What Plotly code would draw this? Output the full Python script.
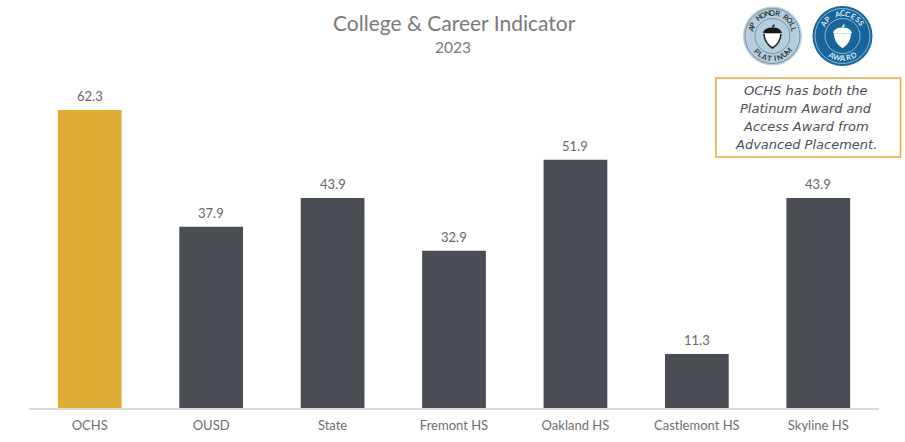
import math
import plotly.graph_objects as go

categories = ["OCHS", "OUSD", "State", "Fremont HS", "Oakland HS", "Castlemont HS", "Skyline HS"]
values = [62.3, 37.9, 43.9, 32.9, 51.9, 11.3, 43.9]
bar_colors = ["#DFAC36", "#4A4E54", "#4A4E54", "#4A4E54", "#4A4E54", "#4A4E54", "#4A4E54"]
title_text = "College & Career Indicator"
subtitle_text = "2023"
note_lines = ["OCHS has both the", "Platinum Award and", "Access Award from", "Advanced Placement."]

W, H = 905, 442
L, R, T, B = 29.4, 26, 0, 34
FONT = "Lato"
PW, PH = W - L - R, H - T - B
px = lambda x: (x - L) / PW
py = lambda y: 1 - (y - T) / PH

fig = go.Figure(go.Bar(
    x=categories, y=values, width=0.525, marker=dict(color=bar_colors, line_width=0), hoverinfo="skip"))

shapes, ann = [], []

for c, v in zip(categories, values):
    ann.append(dict(x=c, y=v, xref="x", yref="y", text=f"{v:.1f}", showarrow=False, yshift=14,
                    xanchor="center", yanchor="middle", font=dict(family=FONT, size=13, color="#666666")))

def text(x, y, s, size, color, angle=0, family=FONT, **kw):
    ann.append(dict(xref="paper", yref="paper", x=px(x), y=py(y), text=s, showarrow=False,
                    xanchor="center", yanchor="middle", textangle=angle,
                    font=dict(family=family, size=size, color=color, **kw)))

def circle(cx, cy, r, fill="rgba(0,0,0,0)", line=None, lw=1):
    shapes.append(dict(type="circle", xref="paper", yref="paper", x0=px(cx - r), x1=px(cx + r),
                       y0=py(cy + r), y1=py(cy - r), fillcolor=fill,
                       line=dict(color=line or fill, width=lw if line else 0)))

def arc_text(cx, cy, r, s, center_deg, step, size, color, bottom=False):
    n = len(s)
    for i, ch in enumerate(s):
        if ch == " ":
            continue
        off = (i - (n - 1) / 2) * step
        if bottom:
            a = center_deg - off
            rot = a - 180
        else:
            a = center_deg + off
            rot = a
        t = math.radians(a)
        text(cx + r * math.sin(t), cy - r * math.cos(t), ch, size, color, angle=rot, weight=700)

def acorn(cx, cy, s, fill, cap):
    body = (f"M {px(cx-9*s)} {py(cy-3*s)} L {px(cx+9*s)} {py(cy-3*s)} "
            f"Q {px(cx+9*s)} {py(cy+7*s)} {px(cx)} {py(cy+13*s)} "
            f"Q {px(cx-9*s)} {py(cy+7*s)} {px(cx-9*s)} {py(cy-3*s)} Z")
    shapes.append(dict(type="path", xref="paper", yref="paper", path=body, fillcolor=fill, line=dict(width=0)))
    top = (f"M {px(cx-10*s)} {py(cy-3*s)} Q {px(cx-9*s)} {py(cy-9*s)} {px(cx)} {py(cy-9*s)} "
           f"Q {px(cx+9*s)} {py(cy-9*s)} {px(cx+10*s)} {py(cy-3*s)} Z")
    shapes.append(dict(type="path", xref="paper", yref="paper", path=top, fillcolor=cap, line=dict(width=0)))
    shapes.append(dict(type="line", xref="paper", yref="paper", x0=px(cx), x1=px(cx + 2 * s),
                       y0=py(cy - 9 * s), y1=py(cy - 12 * s), line=dict(color=cap, width=1.5)))

# Platinum badge
cx, cy = 772.5, 36
circle(cx, cy, 29.5, "#B5CEDD")
circle(cx, cy, 27.5, line="#6F7F88", lw=0.8)
circle(cx, cy, 17.5, line="#6F7F88", lw=0.8)
acorn(cx, cy, 0.95, "#FFFFFF", "#1A1A1A")
shapes.append(dict(type="path", xref="paper", yref="paper", line=dict(color="#1A1A1A", width=1.5),
                   path=f"M {px(cx-8.5)} {py(cy-2)} Q {px(cx-8)} {py(cy+7)} {px(cx)} {py(cy+12)} "
                        f"Q {px(cx+8)} {py(cy+7)} {px(cx+8.5)} {py(cy-2)}"))
arc_text(cx, cy, 22.5, "AP HONOR ROLL", 0, 12, 7.5, "#333B40")
arc_text(cx, cy, 22.5, "PLATINUM", 180, 13, 7.5, "#333B40", bottom=True)

# Access badge
cx, cy = 842.5, 36
circle(cx, cy, 30, "#17659B")
circle(cx, cy, 27.5, line="#A9C9DE", lw=0.8)
circle(cx, cy, 17.5, line="#A9C9DE", lw=0.8)
acorn(cx, cy, 0.95, "#FFFFFF", "#FFFFFF")
arc_text(cx, cy, 22.5, "AP ACCESS", 0, 14, 7.5, "#DCEAF3")
arc_text(cx, cy, 22.5, "AWARD", 180, 15, 7.5, "#DCEAF3", bottom=True)

# Note box
shapes.append(dict(type="rect", xref="paper", yref="paper", x0=px(716), x1=px(900.5), y0=py(157), y1=py(78),
                   fillcolor="#FFFFFF", line=dict(color="#E5A83C", width=1.5)))
for y, line in zip([90.5, 108.5, 126.5, 144.5], note_lines):
    text(806.5, y, line, 13, "#4A4F55", family="DejaVu Sans", style="italic")

text(454.5, 22.5, title_text, 21, "#7A7A7A")
text(453.5, 47, subtitle_text, 15.5, "#7A7A7A")

fig.update_layout(
    width=W, height=H, margin=dict(l=L, r=R, t=T, b=B, pad=0), autosize=False,
    paper_bgcolor="#FFFFFF", plot_bgcolor="#FFFFFF", showlegend=False,
    shapes=shapes, annotations=ann,
    xaxis=dict(type="category", range=[-0.5, 6.5], showgrid=False, ticks="", showline=True,
               linecolor="#D9D9D9", linewidth=1.5, zeroline=False, automargin=False, ticklabelstandoff=5,
               tickfont=dict(family=FONT, size=13, color="#6E6E6E")),
    yaxis=dict(range=[0, 85.3], visible=False, showgrid=False, zeroline=False, automargin=False),
)
fig.write_html("out.html", config=dict(displayModeBar=False),
               post_script="document.body.style.margin='0';document.documentElement.style.overflow='hidden';")
